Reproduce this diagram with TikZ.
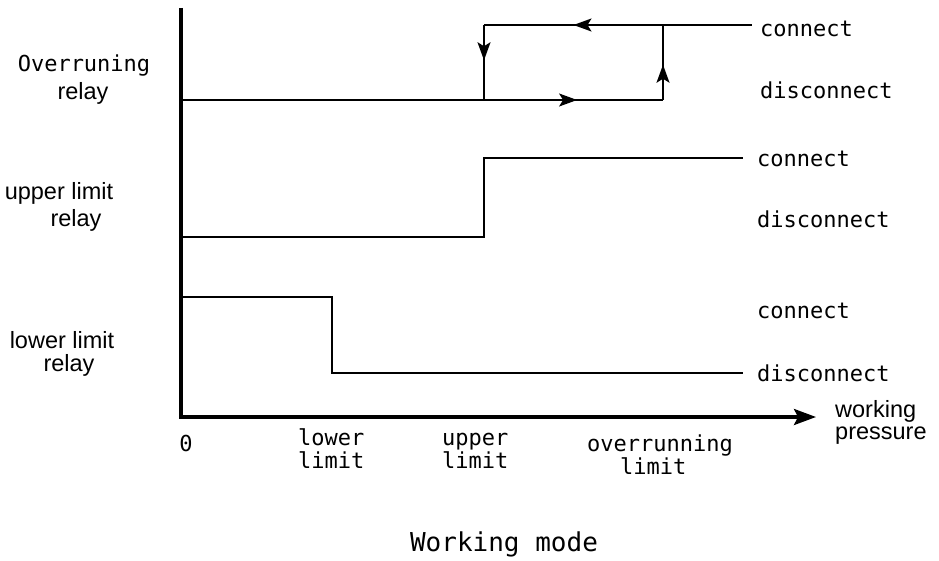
\documentclass[tikz,border=0pt]{standalone}
\usepackage{fontspec}
\setmainfont{Liberation Sans}
\newfontfamily\monof{DejaVu Sans Mono}
\usetikzlibrary{arrows.meta,decorations.markings}
\begin{document}
\begin{tikzpicture}[x=1pt,y=-1pt,
  axis/.style={line width=3.2pt},
  sig/.style={line width=1.6pt},
  tip/.style={-{Stealth[length=22pt,width=16pt,inset=4pt]}},
  mk/.style={postaction={decorate},decoration={markings,mark=at position #1 with {\arrow{Stealth[length=18pt,width=13pt,inset=4pt]}}}},
  mono/.style={font=\monof\fontsize{22}{24}\selectfont,inner sep=0pt},
  sans/.style={font=\fontsize{23.5}{25}\selectfont,inner sep=0pt},
]
\useasboundingbox (0,0) rectangle (939,561);
% axes
\coordinate (O) at (181,417);
\coordinate (ytop) at (181,8);
\coordinate (xend) at (816,417);
\draw[axis] (ytop) -- (O);
\draw[axis,tip] ([xshift=-1.6pt]O) -- (xend);
% overrunning relay
\coordinate (a0) at (181,100);
\coordinate (a1) at (484,100);
\coordinate (a2) at (663,100);
\coordinate (a3) at (663,25);
\coordinate (a4) at (484,25);
\coordinate (a5) at (752,25);
\draw[sig] (a0) -- (a1);
\draw[sig,mk=0.52] (a1) -- (a2);
\draw[sig,mk=0.47] (a2) -- (a3);
\draw[sig,mk=0.5] (a3) -- (a4);
\draw[sig,mk=0.47] (a4) -- (a1);
\draw[sig] (a3) -- (a5);
% upper limit relay
\coordinate (b0) at (181,237);
\coordinate (b1) at (484,237);
\coordinate (b2) at (484,158);
\coordinate (b3) at (743,158);
\draw[sig] (b0) -- (b1) -- (b2) -- (b3);
% lower limit relay
\coordinate (c0) at (181,297);
\coordinate (c1) at (332,297);
\coordinate (c2) at (332,373);
\coordinate (c3) at (743,373);
\draw[sig] (c0) -- (c1) -- (c2) -- (c3);
% right labels
\node[mono,anchor=base west] (t1) at (760,37) {connect};
\node[mono,anchor=base west] (t2) at (760,99) {disconnect};
\node[mono,anchor=base west] (t3) at (757,167) {connect};
\node[mono,anchor=base west] (t4) at (757,228) {disconnect};
\node[mono,anchor=base west] (t5) at (757,318) {connect};
\node[mono,anchor=base west] (t6) at (757,381) {disconnect};
% left labels
\node[mono,anchor=base] (l1) at (84,72) {Overruning};
\node[sans,anchor=base] (l2) at (83,100) {relay};
\node[sans,anchor=base] (l3) at (59,200) {upper limit};
\node[sans,anchor=base] (l4) at (76,227) {relay};
\node[sans,anchor=base] (l5) at (62,348) {lower limit};
\node[sans,anchor=base] (l6) at (69,371) {relay};
% axis labels
\node[mono,anchor=base] (x0) at (186,451) {0};
\node[mono,anchor=base west] (x1a) at (298,445) {lower};
\node[mono,anchor=base west] (x1b) at (298,468) {limit};
\node[mono,anchor=base west] (x2a) at (442,445) {upper};
\node[mono,anchor=base west] (x2b) at (442,468) {limit};
\node[mono,anchor=base west] (x3a) at (587,451) {overrunning};
\node[mono,anchor=base west] (x3b) at (620,474) {limit};
\node[sans,anchor=base west] (wp1) at (835,417) {working};
\node[sans,anchor=base west] (wp2) at (835,439) {pressure};
\node[mono,anchor=base,font=\monof\fontsize{26}{28}\selectfont] (wm) at (504,551) {Working mode};
\end{tikzpicture}
\end{document}
